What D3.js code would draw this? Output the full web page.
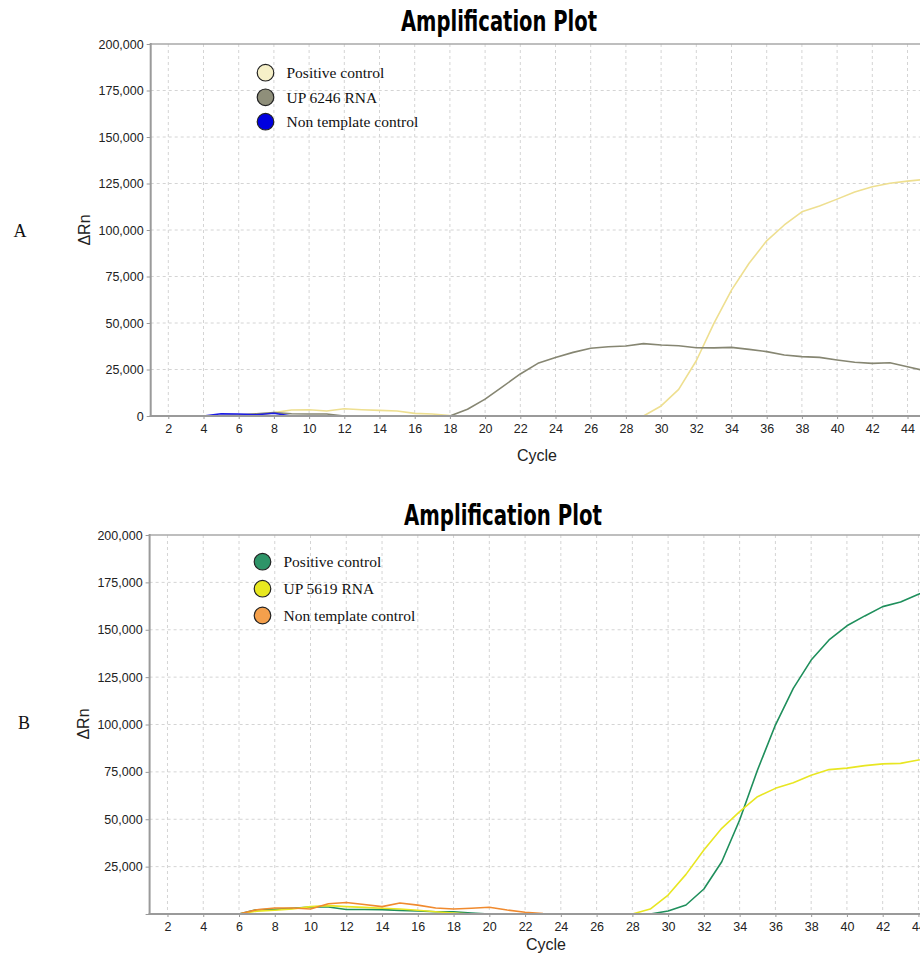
<!DOCTYPE html>
<html>
<head>
<meta charset="utf-8">
<script src="https://cdn.jsdelivr.net/npm/d3@7"></script>
<style>
  html, body { margin: 0; padding: 0; background: #fff; }
  svg { display: block; }
  .tick text { font-family: "Liberation Sans", Arial, sans-serif; font-size: 12.5px; fill: #222; }
  .title { font-family: "Liberation Sans Narrow", "DejaVu Sans Condensed", "Arial Narrow", sans-serif; font-weight: bold; font-size: 28px; fill: #000; }
  .axis-label { font-family: "Liberation Sans", Arial, sans-serif; font-size: 16px; fill: #222; }
  .legend-text { font-family: "Liberation Serif", "Times New Roman", serif; font-size: 15.5px; fill: #111; }
  .panel-label { font-family: "Liberation Serif", "Times New Roman", serif; font-size: 18px; fill: #111; }
</style>
</head>
<body>
<script>
// Cycle numbers 1..45
const cycles = d3.range(1, 46);
const cycleTicks = d3.range(2, 45, 2);
const rnTicks = [0, 25000, 50000, 75000, 100000, 125000, 150000, 175000, 200000];

// Panel A: ΔRn per cycle
const posControlA = [0, 0, 0, 0, 0, 0, 0, 1800, 3200, 3400,
  2700, 3900, 3400, 3000, 2700, 1400, 1100, 200, 0, 0,
  0, 0, 0, 0, 0, 0, 0, 0, 0, 5400,
  14300, 29700, 49800, 67700, 82100, 94200, 102700, 109800, 112900, 116600,
  120400, 123300, 125100, 126300, 127200];
const up6246 = [0, 0, 0, 0, 300, 600, 1250, 1800, 1250, 1100,
  1100, 0, 0, 0, 0, 0, 0, 0, 3600, 9100,
  15800, 22600, 28300, 31500, 34200, 36400, 37200, 37600, 38900, 38200,
  37800, 36700, 36600, 36900, 35800, 34600, 32800, 31900, 31500, 30100,
  28900, 28300, 28600, 26500, 24300];
const ntcA = [0, 0, 0, 0, 1250, 1100, 700, 1450, 0, 0,
  0, 0, 0, 0, 0, 0, 0, 0, 0, 0,
  0, 0, 0, 0, 0, 0, 0, 0, 0, 0,
  0, 0, 0, 0, 0, 0, 0, 0, 0, 0,
  0, 0, 0, 0, 0];

// Panel B: ΔRn per cycle
const posControlB = [0, 0, 0, 0, 0, 0, 2270, 2450, 3000, 3700,
  3700, 2400, 2400, 2300, 1900, 1600, 1200, 1200, 500, 0,
  0, 0, 0, 0, 0, 0, 0, 0, 0, 1600,
  4750, 13200, 27600, 49600, 76000, 99700, 119100, 134000, 144600, 152100,
  157300, 162200, 164600, 168700, 172500];
const up5619 = [0, 0, 0, 0, 0, 0, 1500, 2000, 2600, 3900,
  4400, 3900, 3500, 3000, 2600, 2000, 1200, 500, 0, 0,
  0, 0, 0, 0, 0, 0, 0, 0, 2600, 10000,
  20900, 33800, 45200, 54000, 61900, 66300, 69300, 73200, 76200, 77000,
  78300, 79200, 79500, 81300, 82600];
const ntcB = [0, 0, 0, 0, 0, 0, 2270, 3170, 3170, 2640,
  5400, 6100, 5000, 3900, 5800, 4700, 3200, 2600, 3000, 3600,
  2100, 900, 200, 0, 0, 0, 0, 0, 0, 0,
  0, 0, 0, 0, 0, 0, 0, 0, 0, 0,
  0, 0, 0, 0, 0];

const legendNamesA = ["Positive control", "UP 6246 RNA", "Non template control"];
const legendNamesB = ["Positive control", "UP 5619 RNA", "Non template control"];

const W = 920, H = 954;
const svg = d3.select("body").append("svg").attr("width", W).attr("height", H)
  .style("overflow", "hidden");

function panel(cfg) {
  const g = svg.append("g");
  const x = d3.scaleLinear().domain([1, 46]).range([cfg.left, cfg.left + 45 * cfg.step]);
  const y = d3.scaleLinear().domain([0, 200000]).range([cfg.bottom, cfg.top]);
  const right = W + 30;

  const clipId = "clip-" + cfg.id;
  svg.append("clipPath").attr("id", clipId).append("rect")
    .attr("x", cfg.left).attr("y", cfg.top - 2)
    .attr("width", right - cfg.left).attr("height", cfg.bottom - cfg.top + 2);

  // dashed grid
  g.append("g").selectAll("line").data(d3.range(2, 47, 2)).join("line")
    .attr("x1", d => x(d)).attr("x2", d => x(d))
    .attr("y1", cfg.top).attr("y2", cfg.bottom)
    .attr("stroke", "#d4d4d4").attr("stroke-width", 1).attr("stroke-dasharray", "3,3");
  g.append("g").selectAll("line").data(rnTicks.filter(v => v > 0 && v < 200000)).join("line")
    .attr("x1", cfg.left).attr("x2", right)
    .attr("y1", d => y(d)).attr("y2", d => y(d))
    .attr("stroke", "#d4d4d4").attr("stroke-width", 1).attr("stroke-dasharray", "3,3");

  // top border
  g.append("line").attr("x1", cfg.left).attr("x2", right)
    .attr("y1", y(200000)).attr("y2", y(200000))
    .attr("stroke", "#a8a8a8").attr("stroke-width", 1.5);

  // amplification curves
  const line = d3.line().x((d, i) => x(cycles[i])).y(d => y(d));
  const lines = g.append("g").attr("clip-path", `url(#${clipId})`);
  cfg.series.forEach(s => {
    lines.append("path").datum(s.values)
      .attr("fill", "none").attr("stroke", s.line).attr("stroke-width", 1.6)
      .attr("stroke-linejoin", "round").attr("d", line);
  });

  // axes
  const xAxis = d3.axisBottom(x).tickValues(cycleTicks).tickSize(3).tickPadding(5)
    .tickFormat(d3.format("d"));
  const gx = g.append("g").attr("transform", `translate(0,${cfg.bottom})`).call(xAxis);
  gx.select(".domain").remove();
  gx.selectAll(".tick line").attr("stroke", "#999");
  g.append("line").attr("x1", cfg.left - 1).attr("x2", right)
    .attr("y1", cfg.bottom).attr("y2", cfg.bottom)
    .attr("stroke", "#9a9a9a").attr("stroke-width", 2);

  const yAxis = d3.axisLeft(y).tickValues(rnTicks).tickSize(4).tickPadding(3)
    .tickFormat(d => (d === 0 && !cfg.zeroLabel) ? "" : d3.format(",")(d));
  const gy = g.append("g").attr("transform", `translate(${cfg.left},0)`).call(yAxis);
  gy.select(".domain").remove();
  gy.selectAll(".tick line").attr("stroke", "#999");
  g.append("line").attr("x1", cfg.left).attr("x2", cfg.left)
    .attr("y1", cfg.top - 1).attr("y2", cfg.bottom + 1)
    .attr("stroke", "#9a9a9a").attr("stroke-width", 2);

  // titles and labels
  g.append("text").attr("class", "title").attr("x", cfg.titleX).attr("y", cfg.titleY)
    .attr("text-anchor", "middle")
    .attr("textLength", cfg.titleW).attr("lengthAdjust", "spacingAndGlyphs")
    .text("Amplification Plot");
  g.append("text").attr("class", "axis-label").attr("x", cfg.cycleX).attr("y", cfg.cycleY)
    .attr("text-anchor", "middle").text("Cycle");
  g.append("text").attr("class", "axis-label")
    .attr("transform", `translate(${cfg.rnX},${cfg.rnY}) rotate(-90)`)
    .attr("text-anchor", "middle").attr("font-size", 15).text("ΔRn");
  g.append("text").attr("class", "panel-label").attr("x", cfg.panelX).attr("y", cfg.panelY)
    .attr("text-anchor", "middle").text(cfg.panel);

  // legend
  const lg = g.append("g");
  cfg.series.forEach((s, i) => {
    const cy = cfg.legendY[i];
    lg.append("circle").attr("cx", cfg.legendX).attr("cy", cy).attr("r", 8.3)
      .attr("fill", s.fill).attr("stroke", "#222").attr("stroke-width", 1.2);
    lg.append("text").attr("class", "legend-text").attr("x", cfg.legendX + 21).attr("y", cy + 5.5)
      .text(cfg.names[i]);
  });
}

panel({
  id: "a", panel: "A", left: 150.7, step: 17.6, top: 44, bottom: 416, zeroLabel: true,
  titleX: 499, titleY: 31, titleW: 196, cycleX: 537, cycleY: 461, rnX: 90, rnY: 230,
  panelX: 20, panelY: 237,
  legendX: 265.5, legendY: [72.7, 97.3, 121.7], names: legendNamesA,
  series: [
    { values: posControlA, line: "#eedf90", fill: "#f6f0c8" },
    { values: up6246, line: "#868672", fill: "#8f8f7a" },
    { values: ntcA, line: "#1c1ce6", fill: "#0000e0" }
  ]
});

panel({
  id: "b", panel: "B", left: 149.6, step: 17.88, top: 535, bottom: 914, zeroLabel: false,
  titleX: 503, titleY: 525, titleW: 198, cycleX: 546, cycleY: 950, rnX: 89, rnY: 724,
  panelX: 24, panelY: 729,
  legendX: 262.5, legendY: [561.7, 588.7, 615.5], names: legendNamesB,
  series: [
    { values: posControlB, line: "#1f8f5c", fill: "#2e9468" },
    { values: up5619, line: "#e8e622", fill: "#e8e820" },
    { values: ntcB, line: "#f08a2e", fill: "#f4a04c" }
  ]
});
</script>
</body>
</html>
